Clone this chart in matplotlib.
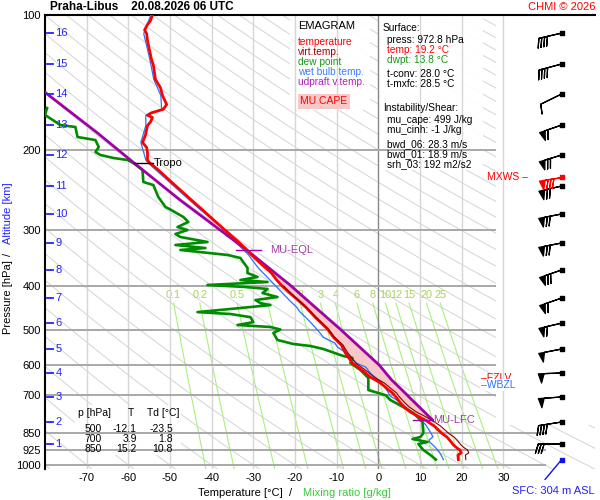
import numpy as np
import matplotlib.pyplot as plt
from matplotlib.patches import Rectangle
from matplotlib.ticker import NullLocator, FixedLocator, FixedFormatter
from matplotlib.transforms import blended_transform_factory

plt.rcParams['font.family'] = ['Liberation Sans', 'DejaVu Sans']
plt.rcParams['axes.unicode_minus'] = False

# ---- sounding ----
temp_p = [100, 103, 105, 108, 110, 114, 120, 126, 129, 139, 145, 151, 158, 162, 165, 167, 169, 173,
          176, 185, 192, 197, 202, 210, 213, 221, 233, 245, 258, 271, 285, 300, 316, 330, 341, 359,
          374, 388, 402, 415, 430, 446, 469, 500, 520, 541, 564, 594, 621, 638, 657, 678, 692, 700,
          728, 743, 763, 778, 798, 819, 850, 867, 894, 902, 917, 926, 940, 950, 972.8]
temp_t = [-54.2, -54.7, -55.4, -56.1, -55.6, -55.4, -54.9, -54.4, -54.0, -53.5, -52.3, -51.8, -50.8,
          -51.6, -54.5, -55.4, -54.2, -54.7, -55.4, -55.9, -56.6, -55.6, -55.4, -55.4, -54.9, -52.8,
          -50.1, -47.5, -44.8, -42.2, -39.6, -36.9, -34.1, -31.9, -30.5, -27.9, -25.7, -24.4, -22.9,
          -21.2, -19.3, -17.4, -15.2, -12.1, -10.8, -8.9, -7.9, -6.2, -3.4, -1.9, 0.5, 2.2, 3.4, 3.9,
          5.3, 6.2, 7.7, 9.4, 11.6, 13.4, 15.2, 16.5, 17.7, 18.0, 18.9, 19.6, 19.9, 19.1, 19.2]

virt_p = [400, 415, 430, 446, 469, 500, 520, 541, 564, 594, 621, 638, 657, 678, 692, 703, 728, 743,
          763, 778, 798, 819, 849, 867, 894, 902, 917, 926, 940, 950, 972.8]
virt_t = [-22.7, -21.1, -19.2, -17.3, -15.0, -11.9, -10.5, -8.5, -7.3, -5.4, -2.5, -1.0, 1.4, 3.2,
          4.4, 4.9, 6.4, 7.4, 9.2, 11.0, 13.1, 14.9, 16.8, 18.2, 19.5, 19.8, 20.7, 21.4, 21.7, 20.9, 21.0]

dwpt_p = [161, 166.8, 175.6, 177.4, 186.7, 189.6, 196.5, 201.6, 204.7, 207.9, 210.0, 213.3, 221.0,
          235.0, 238.7, 253.8, 267.0, 270.6, 281.1, 288.4, 295.9, 300.5, 306.7, 311.4, 319.5, 324.4,
          329.5, 332.8, 341.4, 346.7, 364.9, 374.4, 382.1, 388.1, 392.1, 398.1, 402.2, 406.3, 414.8,
          423.4, 430.0, 436.7, 441.2, 447.9, 457.3, 461.8, 469.3, 481.4, 488.5, 493.6, 500.0, 508.9,
          527.5, 538.4, 543.9, 552.4, 572.6, 578.3, 593.5, 615.0, 640.7, 681.4, 691.9, 700.0, 717.1,
          743.3, 766.4, 802.5, 850.0, 866.5, 875.4, 889.0, 898.1, 926.1, 950.2, 972.8]
dwpt_t = [-79.5, -80.0, -76.3, -72.7, -72.2, -67.9, -67.1, -67.9, -66.7, -63.5, -60.2, -58.8, -56.6,
          -56.4, -54.0, -52.8, -51.1, -49.9, -46.8, -45.6, -48.2, -45.8, -48.7, -47.5, -41.0, -48.7,
          -41.5, -47.5, -36.2, -33.1, -31.4, -31.4, -29.0, -33.1, -26.6, -41.0, -31.9, -26.6, -27.8,
          -24.2, -29.5, -28.3, -25.9, -33.1, -43.4, -35.5, -30.7, -30.0, -33.8, -25.9, -23.5, -25.2,
          -24.2, -20.4, -16.3, -13.2, -8.4, -6.2, -6.7, -4.3, -2.4, -2.4, 0.0, 1.8, 2.9,
          6.0, 8.4, 10.6, 10.8, 10.1, 8.2, 11.8, 9.6, 10.8, 12.5, 13.8]

wetb_p = [100, 110, 126, 139, 151, 162, 167, 176, 192, 210, 213, 245, 271, 293, 316, 341, 365, 388,
          415, 430, 446, 457, 470, 484, 501, 520, 536, 547, 570, 594, 606, 625, 647, 665, 681, 703,
          717, 747, 766, 794, 815, 845, 866, 880, 889, 912, 935, 955, 972.8]
wetb_t = [-54.6, -56.3, -54.8, -53.9, -52.2, -52.0, -55.8, -55.8, -57.0, -55.8, -55.3, -48.0, -42.7,
          -38.2, -34.8, -31.2, -28.8, -26.0, -23.0, -21.4, -19.6, -18.8, -17.4, -16.1, -14.6, -13.2,
          -10.4, -9.8, -7.0, -5.2, -3.0, -1.9, 0.0, 1.2, 2.0, 2.9, 4.4, 6.8, 8.2, 10.3, 11.4, 12.5,
          13.1, 12.2, 12.3, 13.6, 14.6, 15.2, 15.6]

parcel_p = [794.3, 766.4, 717.1, 681.4, 647.3, 599.5, 498.6, 445.7, 398.1, 329.5, 257.7, 213.3, 182.9, 148.3]
parcel_t = [13.0, 11.3, 8.1, 5.7, 3.2, 0.2, -9.2, -15.2, -21.2, -32.2, -47.6, -58.6, -67.4, -80.1]

# levels
tropo_p = 213.3
lfc_p = 794.3
eql_p = 333.0
fzlv_p = 642
wbzl_p = 665
mxws_p = 229.1
sfc_p = 972.8

alt_km = list(range(16, 0, -1))
alt_p = [109.7, 128.5, 149.8, 175.6, 204.7, 239.9, 276.8, 321.1, 368.6, 425.6, 483.9,
         552.4, 624.6, 706.1, 802.5, 898.1]

wind_dir = [257, 255, 244, 251, 253, 257, 259, 259, 251, 251, 257, 259, 268, 266, 261, 270]
wind_kt = [40, 40, 10, 60, 70, 70, 70, 70, 70, 60, 60, 50, 50, 50, 40, 30]
mxws_dir, mxws_kt = 261, 80
sfc_dir = 220

press_ticks = [100, 200, 300, 400, 500, 600, 700, 850, 925, 1000]
temp_ticks = [-70, -60, -50, -40, -30, -20, -10, 0, 10, 20, 30]
mix_vals = [0.1, 0.2, 0.5, 1, 2, 3, 4, 6, 8, 10, 12, 15, 20, 25]
mix_labels = ['0.1', '0.2', '0.5', '1', '2', '3', '4', '6', '8', '10', '12', '15', '20', '25']

table_rows = [('500', '-12.1', '-23.5'), ('700', '3.9', '1.8'), ('850', '15.2', '10.8')]


def px(x, y):
    return x / 600, 1 - y / 500


def td_from_mix(w, p):
    e = w * p / (622.0 + w)
    a = np.log(e / 6.112)
    return 243.5 * a / (17.67 - a)


fig = plt.figure(figsize=(6, 5), dpi=100)
ax = fig.add_axes([45 / 600, 1 - 469 / 500, 550 / 600, 454 / 500])
ax.set_yscale('log')
ax.set_xlim(-80, 52)
ax.set_ylim(1020.7, 100)

ax.yaxis.set_major_locator(FixedLocator(press_ticks))
ax.yaxis.set_major_formatter(FixedFormatter([str(p) for p in press_ticks]))
ax.yaxis.set_minor_locator(NullLocator())
ax.set_xticks(temp_ticks)
ax.set_xticklabels([str(t) for t in temp_ticks])
ax.tick_params(length=0, labelsize=8, pad=3)
ax.tick_params(axis='x', pad=3)
for s in ['right', 'bottom']:
    ax.spines[s].set_visible(False)
ax.spines['top'].set_linewidth(1.5)
ax.spines['left'].set_linewidth(1.5)

# dry adiabats
pp = np.logspace(2, np.log10(1021), 200)
for th in np.arange(-90, 360, 10) + 273.15:
    ax.plot(th * (pp / 1000) ** 0.286 - 273.15, pp, color='#d4d4d4', lw=0.7, zorder=1)

# mixing ratio lines
pm = np.logspace(np.log10(437), np.log10(1021), 30)
for w, lab in zip(mix_vals, mix_labels):
    ax.plot(td_from_mix(w, pm), pm, color='#a8f07c', lw=0.8, zorder=1.2)
    ax.text(td_from_mix(w, 437), 418, lab, color='#a6d45a', fontsize=7.8,
            ha='center', va='center', zorder=1.3)

# blank column for the wind barbs
ax.add_patch(Rectangle((28.3, 100), 52 - 28.3, 815 - 100, fc='white', ec='none', zorder=1.5))

# boxes
for (x0, y0, x1, y1) in [(290, 15, 370, 110), (378, 15, 483, 170), (75, 405, 181, 455)]:
    ax.add_patch(Rectangle(px(x0, y1), (x1 - x0) / 600, (y1 - y0) / 500,
                           transform=fig.transFigure, fc='white', ec='none', alpha=0.95, zorder=1.6))

# isotherms / isobars
for t in temp_ticks:
    ax.axvline(t, color='#888888' if t == 0 else '#d6d6d6', lw=1, zorder=2)
for p in press_ticks[1:]:
    ax.hlines(p, -80, 28.3 if p < 800 else 40.3, color='#a8a8a8', lw=1.4, zorder=2)

# CAPE area between parcel and temperature
lp = np.log(np.array(parcel_p))
pf = np.logspace(np.log10(eql_p), np.log10(lfc_p), 200)
par_i = np.interp(np.log(pf), lp[::-1], np.array(parcel_t)[::-1])
env_i = np.interp(np.log(pf), np.log(temp_p), temp_t)
ax.fill_betweenx(pf, env_i, par_i, where=par_i > env_i, color='#f8c8c8', lw=0, zorder=3)

# profiles
ax.plot(wetb_t, wetb_p, color='#2a72ff', lw=0.9, zorder=4)
ax.plot(dwpt_t, dwpt_p, color='#008c00', lw=1.9, zorder=4.2)
ax.plot(parcel_t, parcel_p, color='#a000a8', lw=2.0, zorder=4.6)
ax.plot(temp_t, temp_p, color='#ff0000', lw=2.0, zorder=5)
ax.plot(virt_t, virt_p, color='#8b0000', lw=0.8, zorder=5.5)

# level markers
ax.plot([-58.6, -54.0], [tropo_p, tropo_p], color='black', lw=1, zorder=6)
ax.text(-53.8, tropo_p, 'Tropo', fontsize=8, va='center', zorder=6)
ax.plot([-34.2, -28.2], [eql_p, eql_p], color='#a000a8', lw=1, zorder=6)
ax.text(-26.0, eql_p, 'MU-EQL', fontsize=8, color='#a040a0', va='center', zorder=6)
ax.plot([8.2, 12.9], [lfc_p, lfc_p], color='#a000a8', lw=1, zorder=6)
ax.text(13.1, lfc_p, 'MU-LFC', fontsize=8, color='#a040a0', va='center', zorder=6)
ax.text(24.6, fzlv_p, '\u2013FZLV', fontsize=7.5, color='red', va='center', zorder=6)
ax.text(24.6, wbzl_p, '\u2013WBZL', fontsize=7.5, color='#2a72ff', va='center', zorder=6.5,
        bbox=dict(fc='white', ec='none', pad=0.6))
ax.text(26.1, mxws_p, 'MXWS \u2013', fontsize=7.5, color='red', va='center', zorder=6)

# altitude scale
tr = blended_transform_factory(ax.transAxes, ax.transData)
for h, p in zip(alt_km, alt_p):
    ax.plot([0.004, 0.015], [p, p], color='#2222ff', lw=1.3, transform=tr, zorder=6)
    ax.text(0.019, p, str(h), color='#2222ff', fontsize=8, va='center', transform=tr, zorder=6)

# wind barbs
bx = 44.0
blen = 5.8
d = np.radians(wind_dir)
u = -np.array(wind_kt) * np.sin(d)
v = -np.array(wind_kt) * np.cos(d)
ax.barbs(np.full(len(alt_p), bx), alt_p, u, v, length=blen, lw=0.9, color='black',
         flip_barb=True, zorder=7)
ax.scatter(np.full(len(alt_p), bx), alt_p, s=5, marker='s', color='black', zorder=7.5)
dm = np.radians(mxws_dir)
ax.barbs([bx], [mxws_p], [-mxws_kt * np.sin(dm)], [-mxws_kt * np.cos(dm)], length=blen, lw=0.9,
         color='red', flip_barb=True, zorder=7.2)
ax.scatter([bx], [mxws_p], s=5, marker='s', color='red', zorder=7.5)
ds = np.radians(sfc_dir)
ax.annotate('', xy=(bx, sfc_p), xytext=(18.7 * np.sin(ds), 18.7 * np.cos(ds)),
            textcoords='offset points',
            arrowprops=dict(arrowstyle='-', color='#1010ee', lw=1, shrinkA=0, shrinkB=0), zorder=7)
ax.scatter([bx], [sfc_p], s=8, marker='s', color='#1010ee', zorder=7.5)

# legend box texts
fig.text(*px(298, 26), 'EMAGRAM', fontsize=8, va='center')
leg = [('temperature', '#ff0000'), ('virt.temp.', '#a00000'), ('dew point', '#139a13'),
       ('wet bulb temp.', '#3a7cff'), ('udpraft v.temp.', '#b020b8')]
for i, (s, c) in enumerate(leg):
    fig.text(*px(298, 42 + 10 * i), s, fontsize=7.3, color=c, va='center')
fig.text(*px(300, 101), 'MU CAPE', fontsize=7.5, color='red', va='center',
         bbox=dict(fc='#f8c8c8', ec='none', pad=1.8))

info = [(383, 28, 'Surface:', 'black'), (387, 40, 'press: 972.8 hPa', 'black'),
        (387, 50, 'temp: 19.2 \u00b0C', 'red'), (387, 60, 'dwpt: 13.8 \u00b0C', '#139a13'),
        (387, 74, 't-conv: 28.0 \u00b0C', 'black'), (387, 84, 't-mxfc: 28.5 \u00b0C', 'black'),
        (383, 108, 'Instability/Shear:', 'black'), (387, 120, 'mu_cape: 499 J/kg', 'black'),
        (387, 130, 'mu_cinh: -1 J/kg', 'black'), (387, 144, 'bwd_06: 28.3 m/s', 'black'),
        (387, 154, 'bwd_01: 18.9 m/s', 'black'), (387, 164, 'srh_03: 192 m2/s2', 'black')]
for x, y, s, c in info:
    fig.text(*px(x, y), s, fontsize=7.3, color=c, va='center')

# small table
fig.text(*px(78, 413), 'p [hPa]', fontsize=7.5, va='center')
fig.text(*px(128, 413), 'T', fontsize=7.5, va='center')
fig.text(*px(147, 413), 'Td [\u00b0C]', fontsize=7.5, va='center')
for i, (p, t, td) in enumerate(table_rows):
    y = 429 + 10 * i
    fig.text(*px(102, y), p, fontsize=7.5, va='center', ha='right')
    fig.text(*px(137, y), t, fontsize=7.5, va='center', ha='right')
    fig.text(*px(173, y), td, fontsize=7.5, va='center', ha='right')

# titles and axis labels
fig.text(*px(50, 7), 'Praha-Libus    20.08.2026 06 UTC', fontsize=8.5, fontweight='bold', va='center')
fig.text(*px(595, 7), 'CHMI \u00a9 2026', fontsize=8, color='red', va='center', ha='right')
fig.text(*px(512, 491), 'SFC: 304 m ASL', fontsize=8, color='#2222ee', va='center')
fig.text(*px(198, 493), 'Temperature [\u00b0C]  /', fontsize=8, va='center')
fig.text(*px(303, 493), 'Mixing ratio [g/kg]', fontsize=8, color='#3cc83c', va='center')
fig.text(*px(8, 297), 'Pressure [hPa]', fontsize=8, rotation=90, ha='center', va='center')
fig.text(*px(8, 254), '/', fontsize=8, rotation=90, ha='center', va='center')
fig.text(*px(8, 213), 'Altitude [km]', fontsize=8, color='#2222ff', rotation=90, ha='center', va='center')

fig.savefig('out.png', dpi=100)
